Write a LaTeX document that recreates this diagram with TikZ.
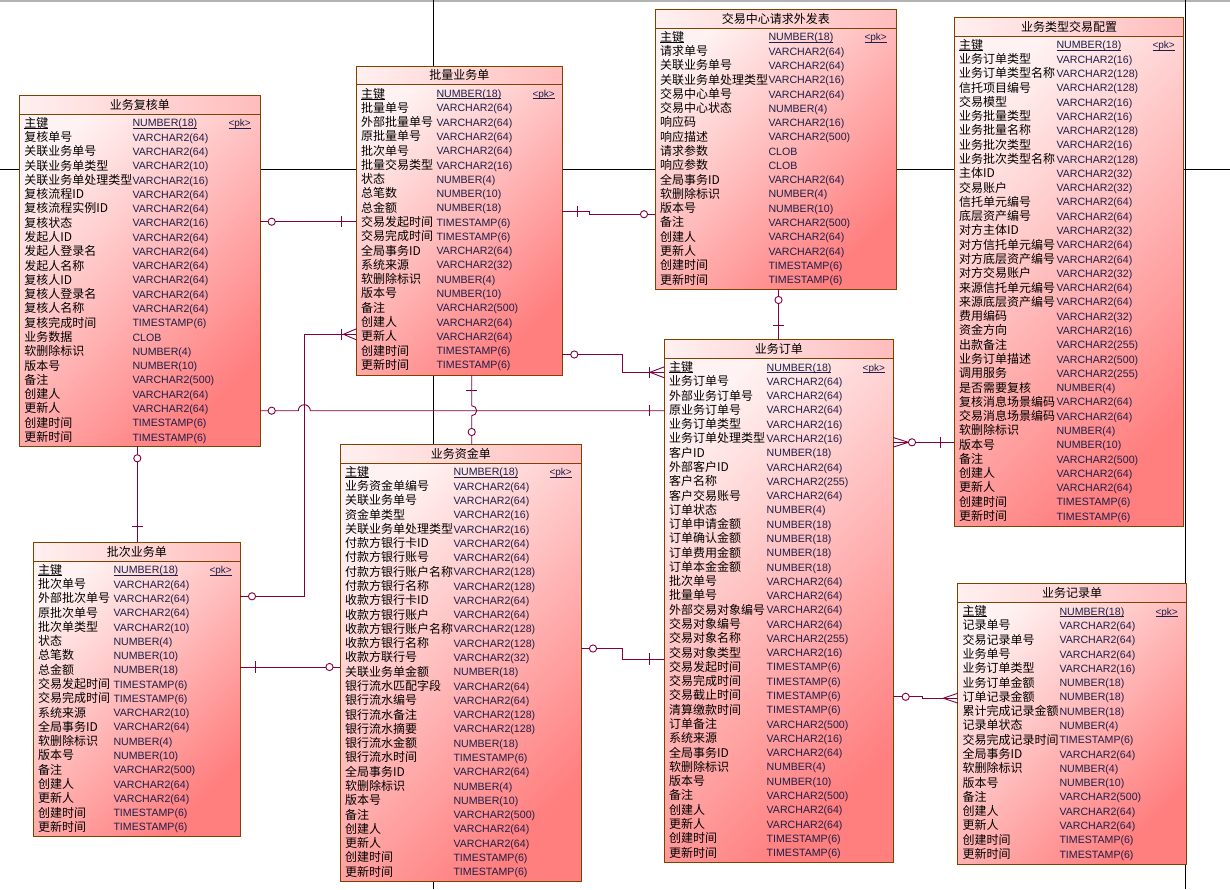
\documentclass[tikz,border=0pt]{standalone}
\usepackage{fontspec}
\setmainfont{Liberation Sans}
\newfontfamily\cjk{Noto Sans CJK SC}

\definecolor{tabline}{RGB}{128,64,0}
\definecolor{tabhi}{RGB}{255,242,242}
\definecolor{tablo}{RGB}{255,126,126}
\definecolor{hdrhi}{RGB}{255,240,240}
\definecolor{hdrlo}{RGB}{255,188,188}
\definecolor{typecol}{RGB}{30,30,72}
\definecolor{relcol}{RGB}{128,0,64}

\tikzset{
	tabbox/.style={draw=tabline, line width=0.9pt, top color=tabhi, bottom color=tablo, shading angle=45, inner sep=0pt, outer sep=0pt},
	tabhead/.style={left color=hdrhi, right color=hdrlo},
	tabrule/.style={draw=tabline, line width=0.9pt},
	tabtitle/.style={font=\cjk\fontsize{12}{12}\selectfont, inner sep=0pt, anchor=base},
	fname/.style={font=\cjk\fontsize{12}{12}\selectfont, inner sep=0pt, anchor=base west},
	ftype/.style={font=\fontsize{10.6}{12}\selectfont, text=typecol, inner sep=0pt, anchor=base west},
	fkey/.style={font=\fontsize{10}{12}\selectfont, text=typecol, inner sep=0pt, anchor=base west},
	rel/.style={draw=relcol, line width=0.9pt},
	pagebreak/.style={draw=black, line width=0.8pt}
}

\newcommand{\keyline}[1]{\setbox0\hbox{#1}\rlap{\rule[-1.4pt]{\wd0}{0.7pt}}\box0}
% #1 name, #2 left, #3 top, #4 right, #5 bottom, #6 type column, #7 title, #8 fields
\newcommand{\ertable}[8]{%
	\pgfmathsetmacro{\tabw}{#4-#2}
	\pgfmathsetmacro{\tabh}{#5-#3}
	\pgfmathsetmacro{\tabhy}{#3+18.8}
	\pgfmathsetmacro{\tabtx}{#2+#6}
	\pgfmathsetmacro{\tabkx}{#2+#6+96}
	\node[tabbox, minimum width=\tabw pt, minimum height=\tabh pt, anchor=north west] (#1) at (#2,#3) {};
	\shade[tabhead] (#2,#3) rectangle (#4,\tabhy);
	\draw[tabrule] (#2,#3) rectangle (#4,\tabhy);
	\node[tabtitle] (#1-title) at ({(#2+#4)/2},#3+13.8) {#7};
	\node[fname] (#1-n0) at (#2+4.6,#3+32) {\keyline{主键}};
	\node[ftype] (#1-t0) at (\tabtx,#3+31.6) {\keyline{NUMBER(18)}};
	\node[fkey] (#1-pk) at (\tabkx,#3+31.6) {\keyline{<pk>}};
	\foreach \fn/\ft [count=\rr] in {#8} {
		\pgfmathsetmacro{\ry}{#3+27.6+\rr*14.28}
		\node[fname] (#1-n\rr) at (#2+4.6,\ry+4.4) {\fn};
		\node[ftype] (#1-t\rr) at (\tabtx,\ry+4.0) {\ft};
	}
}
\newcommand{\zmark}[1]{\draw[rel, fill=white] #1 circle[radius=3.6pt];}
\newcommand{\vtick}[1]{\draw[rel] #1 ++(0,-5.7) -- ++(0,11.4);}
\newcommand{\htick}[1]{\draw[rel] #1 ++(-5.7,0) -- ++(11.4,0);}

\begin{document}
\begin{tikzpicture}[x=1pt, y=-1pt]
	\useasboundingbox (0,0) rectangle (1230,889);
	\draw[gray!60, line width=1.5pt] (0,0.8) -- (1230,0.8);
	\draw[pagebreak] (433.3,0) -- (433.3,889);
	\draw[pagebreak] (1185.6,0) -- (1185.6,889);
	\draw[pagebreak] (0,169.2) -- (1230,169.2);

	\ertable{fuhe}{19.5}{95.3}{260.3}{446.3}{112.8}{业务复核单}{复核单号/VARCHAR2(64), 关联业务单号/VARCHAR2(64), 关联业务单类型/VARCHAR2(10), 关联业务单处理类型/VARCHAR2(16), 复核流程ID/VARCHAR2(64), 复核流程实例ID/VARCHAR2(64), 复核状态/VARCHAR2(16), 发起人ID/VARCHAR2(64), 发起人登录名/VARCHAR2(64), 发起人名称/VARCHAR2(64), 复核人ID/VARCHAR2(64), 复核人登录名/VARCHAR2(64), 复核人名称/VARCHAR2(64), 复核完成时间/TIMESTAMP(6), 业务数据/CLOB, 软删除标识/NUMBER(4), 版本号/NUMBER(10), 备注/VARCHAR2(500), 创建人/VARCHAR2(64), 更新人/VARCHAR2(64), 创建时间/TIMESTAMP(6), 更新时间/TIMESTAMP(6)}
	\ertable{piliang}{356.3}{66}{562.3}{375}{80}{批量业务单}{批量单号/VARCHAR2(64), 外部批量单号/VARCHAR2(64), 原批量单号/VARCHAR2(64), 批次单号/VARCHAR2(64), 批量交易类型/VARCHAR2(16), 状态/NUMBER(4), 总笔数/NUMBER(10), 总金额/NUMBER(18), 交易发起时间/TIMESTAMP(6), 交易完成时间/TIMESTAMP(6), 全局事务ID/VARCHAR2(64), 系统来源/VARCHAR2(32), 软删除标识/NUMBER(4), 版本号/NUMBER(10), 备注/VARCHAR2(500), 创建人/VARCHAR2(64), 更新人/VARCHAR2(64), 创建时间/TIMESTAMP(6), 更新时间/TIMESTAMP(6)}
	\ertable{jyzx}{655.3}{9.3}{896.3}{289}{113}{交易中心请求外发表}{请求单号/VARCHAR2(64), 关联业务单号/VARCHAR2(64), 关联业务单处理类型/VARCHAR2(16), 交易中心单号/VARCHAR2(64), 交易中心状态/NUMBER(4), 响应码/VARCHAR2(16), 响应描述/VARCHAR2(500), 请求参数/CLOB, 响应参数/CLOB, 全局事务ID/VARCHAR2(64), 软删除标识/NUMBER(4), 版本号/NUMBER(10), 备注/VARCHAR2(500), 创建人/VARCHAR2(64), 更新人/VARCHAR2(64), 创建时间/TIMESTAMP(6), 更新时间/TIMESTAMP(6)}
	\ertable{peizhi}{954.3}{17.3}{1183.7}{526}{102}{业务类型交易配置}{业务订单类型/VARCHAR2(16), 业务订单类型名称/VARCHAR2(128), 信托项目编号/VARCHAR2(128), 交易模型/VARCHAR2(16), 业务批量类型/VARCHAR2(16), 业务批量名称/VARCHAR2(128), 业务批次类型/VARCHAR2(16), 业务批次类型名称/VARCHAR2(128), 主体ID/VARCHAR2(32), 交易账户/VARCHAR2(32), 信托单元编号/VARCHAR2(64), 底层资产编号/VARCHAR2(64), 对方主体ID/VARCHAR2(32), 对方信托单元编号/VARCHAR2(64), 对方底层资产编号/VARCHAR2(64), 对方交易账户/VARCHAR2(32), 来源信托单元编号/VARCHAR2(64), 来源底层资产编号/VARCHAR2(64), 费用编码/VARCHAR2(32), 资金方向/VARCHAR2(16), 出款备注/VARCHAR2(255), 业务订单描述/VARCHAR2(500), 调用服务/VARCHAR2(255), 是否需要复核/NUMBER(4), 复核消息场景编码/VARCHAR2(64), 交易消息场景编码/VARCHAR2(64), 软删除标识/NUMBER(4), 版本号/NUMBER(10), 备注/VARCHAR2(500), 创建人/VARCHAR2(64), 更新人/VARCHAR2(64), 创建时间/TIMESTAMP(6), 更新时间/TIMESTAMP(6)}
	\ertable{dingdan}{664.3}{339.5}{893.3}{862}{102.2}{业务订单}{业务订单号/VARCHAR2(64), 外部业务订单号/VARCHAR2(64), 原业务订单号/VARCHAR2(64), 业务订单类型/VARCHAR2(16), 业务订单处理类型/VARCHAR2(16), 客户ID/NUMBER(18), 外部客户ID/VARCHAR2(64), 客户名称/VARCHAR2(255), 客户交易账号/VARCHAR2(64), 订单状态/NUMBER(4), 订单申请金额/NUMBER(18), 订单确认金额/NUMBER(18), 订单费用金额/NUMBER(18), 订单本金金额/NUMBER(18), 批次单号/VARCHAR2(64), 批量单号/VARCHAR2(64), 外部交易对象编号/VARCHAR2(64), 交易对象编号/VARCHAR2(64), 交易对象名称/VARCHAR2(255), 交易对象类型/VARCHAR2(16), 交易发起时间/TIMESTAMP(6), 交易完成时间/TIMESTAMP(6), 交易截止时间/TIMESTAMP(6), 清算缴款时间/TIMESTAMP(6), 订单备注/VARCHAR2(500), 系统来源/VARCHAR2(16), 全局事务ID/VARCHAR2(64), 软删除标识/NUMBER(4), 版本号/NUMBER(10), 备注/VARCHAR2(500), 创建人/VARCHAR2(64), 更新人/VARCHAR2(64), 创建时间/TIMESTAMP(6), 更新时间/TIMESTAMP(6)}
	\ertable{pici}{33.3}{542.3}{240.3}{836}{80}{批次业务单}{批次单号/VARCHAR2(64), 外部批次单号/VARCHAR2(64), 原批次单号/VARCHAR2(64), 批次单类型/VARCHAR2(10), 状态/NUMBER(4), 总笔数/NUMBER(10), 总金额/NUMBER(18), 交易发起时间/TIMESTAMP(6), 交易完成时间/TIMESTAMP(6), 系统来源/VARCHAR2(10), 全局事务ID/VARCHAR2(64), 软删除标识/NUMBER(4), 版本号/NUMBER(10), 备注/VARCHAR2(500), 创建人/VARCHAR2(64), 更新人/VARCHAR2(64), 创建时间/TIMESTAMP(6), 更新时间/TIMESTAMP(6)}
	\ertable{zijin}{340.3}{444.3}{581.3}{881}{113}{业务资金单}{业务资金单编号/VARCHAR2(64), 关联业务单号/VARCHAR2(64), 资金单类型/VARCHAR2(16), 关联业务单处理类型/VARCHAR2(16), 付款方银行卡ID/VARCHAR2(64), 付款方银行账号/VARCHAR2(64), 付款方银行账户名称/VARCHAR2(128), 付款方银行名称/VARCHAR2(128), 收款方银行卡ID/VARCHAR2(64), 收款方银行账户/VARCHAR2(64), 收款方银行账户名称/VARCHAR2(128), 收款方银行名称/VARCHAR2(128), 收款方联行号/VARCHAR2(32), 关联业务单金额/NUMBER(18), 银行流水匹配字段/VARCHAR2(64), 银行流水编号/VARCHAR2(64), 银行流水备注/VARCHAR2(128), 银行流水摘要/VARCHAR2(128), 银行流水金额/NUMBER(18), 银行流水时间/TIMESTAMP(6), 全局事务ID/VARCHAR2(64), 软删除标识/NUMBER(4), 版本号/NUMBER(10), 备注/VARCHAR2(500), 创建人/VARCHAR2(64), 更新人/VARCHAR2(64), 创建时间/TIMESTAMP(6), 更新时间/TIMESTAMP(6)}
	\ertable{jilu}{957.7}{583.7}{1186.3}{864.3}{101.6}{业务记录单}{记录单号/VARCHAR2(64), 交易记录单号/VARCHAR2(64), 业务单号/VARCHAR2(64), 业务订单类型/VARCHAR2(16), 业务订单金额/NUMBER(18), 订单记录金额/NUMBER(18), 累计完成记录金额/NUMBER(18), 记录单状态/NUMBER(4), 交易完成记录时间/TIMESTAMP(6), 全局事务ID/VARCHAR2(64), 软删除标识/NUMBER(4), 版本号/NUMBER(10), 备注/VARCHAR2(500), 创建人/VARCHAR2(64), 更新人/VARCHAR2(64), 创建时间/TIMESTAMP(6), 更新时间/TIMESTAMP(6)}

	% references
	\draw[rel] (fuhe.east |- 0,221.7) -- (piliang.west |- 0,221.7);
	\zmark{(271.7,221.7)} \vtick{(341.7,221.7)}
	\draw[rel] (pici.east |- 0,596.3) -| (304.3,334.3) -- (piliang.west |- 0,334.3);
	\draw[rel] (piliang.west |- 0,328.8) -- (343.5,334.3) -- (piliang.west |- 0,339.8);
	\zmark{(252,596.3)} \vtick{(341.7,334.3)}
	\draw[rel] (fuhe.east |- 0,410.7) -- (298.3,410.7) arc[start angle=180, end angle=0, radius=6pt] -- (dingdan.west |- 0,410.7);
	\zmark{(271.7,410.7)} \vtick{(649.5,410.7)}
	\draw[rel] (piliang.south -| 471.7,0) -- (471.7,405.7) arc[start angle=90, end angle=-90, radius=5pt] -- (zijin.north -| 471.7,0);
	\htick{(471.7,390)} \zmark{(471.7,432)}
	\draw[rel] (piliang.east |- 0,354.5) -| (622.5,372.3) -- (dingdan.west |- 0,372.3);
	\draw[rel] (dingdan.west |- 0,366.8) -- (650,372.3) -- (dingdan.west |- 0,377.8);
	\zmark{(574.3,354.5)} \vtick{(649.5,372.3)}
	\draw[rel] (piliang.east |- 0,211.7) -| (589.3,214.2) -- (jyzx.west |- 0,214.2);
	\vtick{(577.7,211.7)} \zmark{(644,214.2)}
	\draw[rel] (jyzx.south -| 778.5,0) -- (dingdan.north -| 778.5,0);
	\zmark{(778.5,300)} \htick{(778.5,325)}
	\draw[rel] (dingdan.east |- 0,442.3) -- (peizhi.west |- 0,442.3);
	\draw[rel] (dingdan.east |- 0,437.5) -- (908.4,442.3) -- (dingdan.east |- 0,447.1);
	\zmark{(912,442.3)} \vtick{(940,442.3)}
	\draw[rel] (dingdan.east |- 0,696.8) -| (922,698.2) -- (jilu.west |- 0,698.2);
	\draw[rel] (jilu.west |- 0,693.3) -- (943.3,698.2) -- (jilu.west |- 0,703.1);
	\zmark{(905.7,696.8)}
	\draw[rel] (zijin.east |- 0,648.5) -| (622.3,659) -- (dingdan.west |- 0,659);
	\zmark{(593,648.5)} \vtick{(649.5,659)}
	\draw[rel] (pici.east |- 0,667) -- (zijin.west |- 0,667);
	\vtick{(255.7,667)} \zmark{(329.5,667)}
	\draw[rel] (fuhe.south -| 137.3,0) -- (pici.north -| 137.3,0);
	\zmark{(137.3,458.3)} \htick{(137.3,526.7)}
\end{tikzpicture}
\end{document}
